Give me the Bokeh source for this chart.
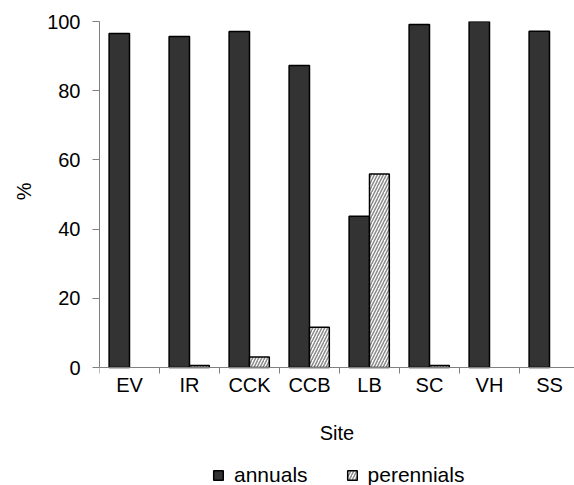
from bokeh.plotting import figure
from bokeh.models import (ColumnDataSource, Range1d, FixedTicker, CustomJSTickFormatter,
                          Legend, LegendItem, Title)
from bokeh.transform import dodge
from bokeh.embed import file_html
from bokeh.resources import INLINE

sites = ["EV", "IR", "CCK", "CCB", "LB", "SC", "VH", "SS"]
annuals = [96.5, 95.7, 97.1, 87.3, 43.7, 99.1, 100.0, 97.2]
perennials = [0.0, 0.6, 3.0, 11.6, 55.9, 0.6, 0.0, 0.0]
y_ticks = [0, 20, 40, 60, 80, 100]

FONT = "Liberation Sans"
FS = "20px"

pos = [i + 0.5 for i in range(len(sites))]
src_a = ColumnDataSource(dict(x=pos, top=annuals))
pp = [(x, v) for x, v in zip(pos, perennials) if v > 0]
src_p = ColumnDataSource(dict(x=[a for a, _ in pp], top=[b for _, b in pp]))

# plot area 0..100 spans 346 px; the frame continues 118 px lower for axis texts and legend
PX = 346.0
y_lo = -118 / PX * 100

p = figure(frame_width=475, frame_height=464, output_backend="svg", toolbar_location=None,
           x_range=Range1d(0, 475 / 60), y_range=Range1d(y_lo, 100),
           min_border_left=99, min_border_right=0, min_border_top=21, min_border_bottom=0)
p.outline_line_color = None
p.xgrid.visible = False
p.ygrid.visible = False
p.background_fill_color = "white"
p.border_fill_color = "white"

ra = p.vbar(x=dodge("x", -0.17, range=p.x_range), top="top", bottom=0, width=0.34,
            source=src_a, fill_color="#333333", line_color="black", line_width=1.5)
rp = p.vbar(x=dodge("x", 0.165, range=p.x_range), top="top", bottom=0, width=0.33,
            source=src_p, fill_color="white", line_color="black", line_width=1.5,
            hatch_pattern="/", hatch_color="#8a8a8a", hatch_scale=6, hatch_weight=1.5)

xa = p.xaxis[0]
xa.fixed_location = 0
xa.ticker = FixedTicker(ticks=pos, minor_ticks=list(range(len(sites) + 1)))
xa.formatter = CustomJSTickFormatter(args=dict(names=sites),
                                     code="return names[Math.floor(tick)] || '';")
xa.major_tick_out = 0
xa.major_tick_in = 0
xa.minor_tick_in = 0
xa.minor_tick_out = 6
xa.minor_tick_line_color = "#808080"
xa.axis_line_color = "#808080"
xa.major_label_standoff = 0
xa.axis_label = "Site"
xa.axis_label_standoff = 23
xa.axis_label_text_font_style = "normal"

ya = p.yaxis[0]
ya.bounds = (0, 100)
ya.ticker = FixedTicker(ticks=y_ticks)
ya.major_tick_out = 7
ya.major_tick_in = 0
ya.minor_tick_out = 0
ya.minor_tick_in = 0
ya.major_tick_line_color = "#808080"
ya.axis_line_color = "#808080"
ya.major_label_standoff = 12

for ax in (xa, ya):
    ax.major_label_text_font = FONT
    ax.major_label_text_font_size = FS
    ax.major_label_text_color = "black"
    ax.axis_label_text_font = FONT
    ax.axis_label_text_font_size = FS
    ax.axis_label_text_color = "black"

ytitle = Title(text="%", align="right", vertical_align="middle", offset=161, standoff=18,
               text_font=FONT, text_font_size=FS, text_font_style="normal",
               text_color="black")
p.add_layout(ytitle, "left")

legend = Legend(items=[LegendItem(label="annuals", renderers=[ra]),
                       LegendItem(label="perennials", renderers=[rp])],
                orientation="horizontal", location=(113, -2),
                glyph_width=12, glyph_height=12, label_standoff=10, spacing=38,
                padding=0, margin=0, border_line_color=None, background_fill_alpha=0,
                label_text_font=FONT, label_text_font_size="21px", label_text_color="black")
p.add_layout(legend, "center")

open("out.html", "w").write(file_html(p, INLINE))
